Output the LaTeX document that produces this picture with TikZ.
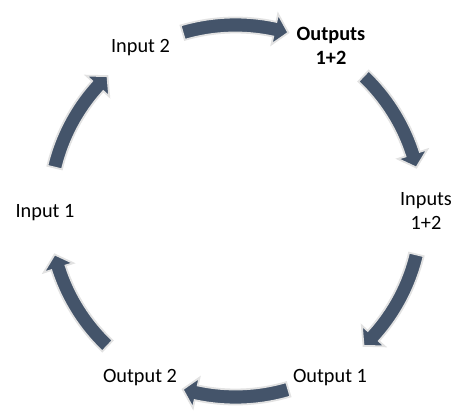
\documentclass[tikz,border=0pt]{standalone}
\usepackage{fontspec}
\setmainfont{Carlito}
\definecolor{arrowfill}{HTML}{44546A}
\definecolor{arrowline}{HTML}{E2E2E2}
\begin{document}
\begin{tikzpicture}[x=1pt,y=1pt,
  lbl/.style={font=\fontsize{20.3}{24}\selectfont, inner sep=0pt, align=center, anchor=base},
  cyc/.style={fill=arrowfill, draw=arrowline, line width=1.8pt, line join=miter}]
\useasboundingbox (0,0) rectangle (457,415);
\coordinate (O) at (235.5,204);
\begin{scope}[shift={(O)}]
\foreach \a in {90,30,-30,-90,-150,150}{
  \path[cyc] (\a+16.5:193.5) arc[start angle=\a+16.5, end angle=\a-12.2, radius=193.5]
    -- (\a-12.2:201.5) -- (\a-16.5:186) -- (\a-12.2:170.5)
    -- (\a-12.2:178.5) arc[start angle=\a-12.2, end angle=\a+16.5, radius=178.5] -- cycle;
}
\end{scope}
\node[lbl] (in2) at (140.5,362) {Input 2};
\node[lbl] (out12) at (331,350) {\bfseries Outputs\\\bfseries 1+2};
\node[lbl] (in12) at (426,185) {Inputs\\1+2};
\node[lbl] (in1) at (45,197) {Input 1};
\node[lbl] (out2) at (140,33) {Output 2};
\node[lbl] (out1) at (330,33) {Output 1};
\end{tikzpicture}
\end{document}
